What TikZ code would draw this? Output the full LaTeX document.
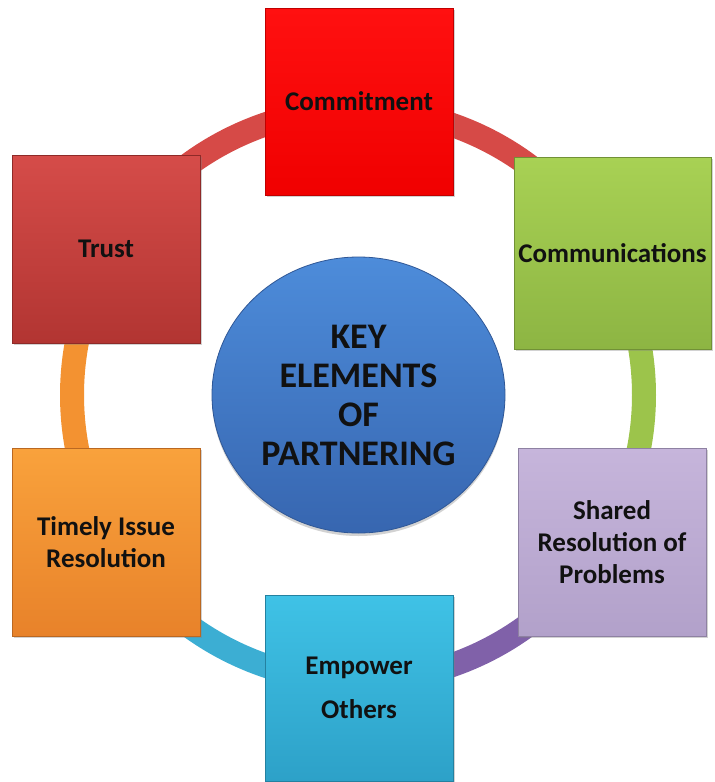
\documentclass[tikz,border=0pt]{standalone}
\usepackage{fontspec}
\setmainfont{Carlito}
\usetikzlibrary{shadows,calc,shapes.geometric}
\definecolor{commitTop}{HTML}{FF1010}
\definecolor{commitBot}{HTML}{F00000}
\definecolor{trustTop}{HTML}{D54C49}
\definecolor{trustBot}{HTML}{B23532}
\definecolor{commTop}{HTML}{A8D154}
\definecolor{commBot}{HTML}{8DB543}
\definecolor{sharedTop}{HTML}{C6B5DB}
\definecolor{sharedBot}{HTML}{B2A1CA}
\definecolor{empTop}{HTML}{3FC2E6}
\definecolor{empBot}{HTML}{2DA1C8}
\definecolor{timTop}{HTML}{F9A23C}
\definecolor{timBot}{HTML}{E8822A}
\definecolor{circTop}{HTML}{4D8CDA}
\definecolor{circBot}{HTML}{3766B0}
\definecolor{arcRed}{HTML}{D64A47}
\definecolor{arcGreen}{HTML}{9CC44B}
\definecolor{arcPurple}{HTML}{8061A9}
\definecolor{arcCyan}{HTML}{3CAED3}
\definecolor{arcOrange}{HTML}{F39231}
\definecolor{txt}{HTML}{111111}
\tikzset{
  boxnode/.style={rectangle, minimum width=188pt, minimum height=188pt, inner sep=0pt,
    align=center, font=\fontsize{27}{32}\selectfont\bfseries, text=txt,
    draw=#1Bot!80!black, line width=0.8pt, top color=#1Top, bottom color=#1Bot,
    drop shadow={opacity=0.35, shadow xshift=1.5pt, shadow yshift=-2pt}},
  ringarc/.style={line width=24pt, draw=#1},
}
\begin{document}
\begin{tikzpicture}[x=1pt,y=-1pt]
\useasboundingbox (0,0) rectangle (715,782);
\fill[white] (0,0) rectangle (715,782);
\coordinate (ring) at (358,395);
% ring segments
\draw[ringarc=arcRed]    ($(ring)+(90:286pt)$)  arc[start angle=90,  end angle=30,  radius=286pt];
\draw[ringarc=arcGreen]  ($(ring)+(30:286pt)$)  arc[start angle=30,  end angle=-30, radius=286pt];
\draw[ringarc=arcPurple] ($(ring)+(-30:286pt)$) arc[start angle=-30, end angle=-90, radius=286pt];
\draw[ringarc=arcCyan]   ($(ring)+(-90:286pt)$) arc[start angle=-90, end angle=-150, radius=286pt];
\draw[ringarc=arcOrange] ($(ring)+(210:286pt)$) arc[start angle=210, end angle=150, radius=286pt];
\draw[ringarc=arcRed]    ($(ring)+(150:286pt)$) arc[start angle=150, end angle=90,  radius=286pt];
% boxes
\node[boxnode=commit, minimum height=187pt] (commit) at (359,101.5) {Commitment};
\node[boxnode=comm, minimum width=197pt, minimum height=192pt] (comm) at (612.5,253) {Communications};
\node[boxnode=shared] (shared) at (612,542) {Shared\\Resolution of\\Problems};
\node[boxnode=emp, minimum height=186pt] (emp) at (359,688) {Empower\\[12pt]Others};
\node[boxnode=tim] (tim) at (106,542) {Timely Issue\\Resolution};
\node[boxnode=trust] (trust) at (106,249) {Trust};
% centre
\node[ellipse, minimum width=293pt, minimum height=276pt, inner sep=0pt,
      top color=circTop, bottom color=circBot, draw=circBot!85!black, line width=0.8pt,
      drop shadow={opacity=0.35, shadow xshift=0pt, shadow yshift=-3pt},
      align=center, text=txt, font=\fontsize{36}{39}\selectfont\bfseries] (key) at (358.5,395)
      {KEY\\ELEMENTS\\OF\\PARTNERING};
\end{tikzpicture}
\end{document}
